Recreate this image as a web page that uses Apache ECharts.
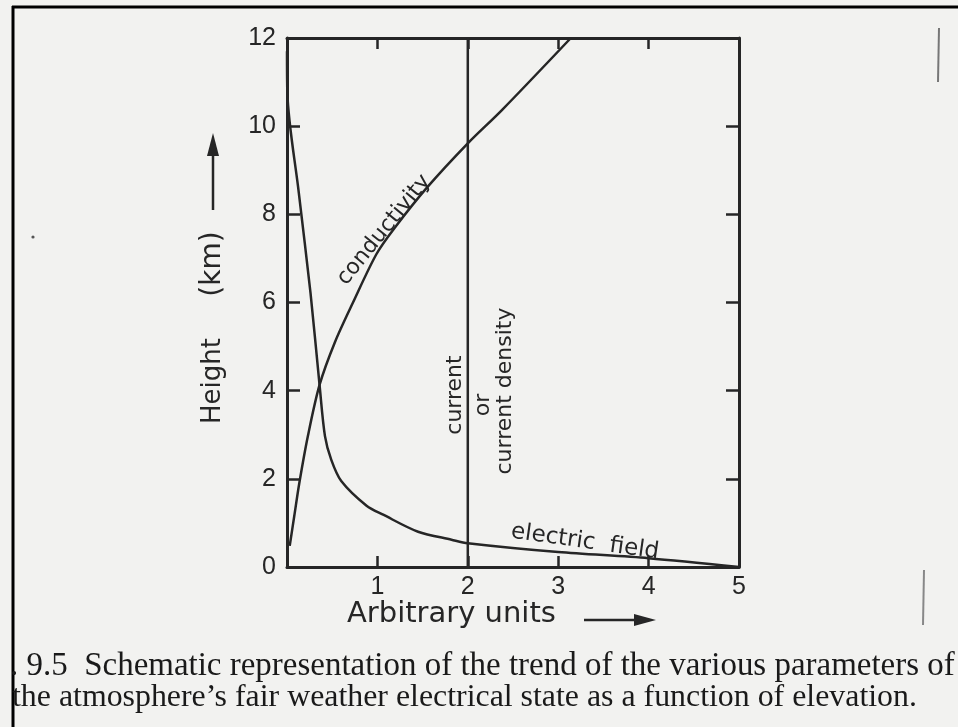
<!DOCTYPE html>
<html><head><meta charset="utf-8">
<script src="https://cdn.jsdelivr.net/npm/echarts@6/dist/echarts.min.js"></script>
<style>html,body{margin:0;padding:0;background:#f2f2f0}#c{width:958px;height:727px}</style>
</head><body><div id="c"></div>
<script>
// ---- data ----
const xTickValues = [1, 2, 3, 4, 5];
const yTickValues = [0, 2, 4, 6, 8, 10, 12];
const conductivityX = [0.03, 0.08, 0.135, 0.23, 0.36, 0.53, 0.73, 0.99, 1.19, 1.55, 2.0, 2.38, 3.14];
const conductivityY = [0.48, 1.15, 1.89, 2.96, 4.13, 5.1, 6.0, 7.1, 7.69, 8.61, 9.61, 10.37, 12.0];
const fieldX = [0.0, 0.004, 0.13, 0.26, 0.36, 0.42, 0.49, 0.6, 0.88, 1.07, 1.45, 1.82, 2.0, 3.0, 4.0, 5.0];
const fieldY = [11.7, 10.75, 8.5, 6.22, 4.13, 2.97, 2.43, 1.95, 1.39, 1.18, 0.8, 0.62, 0.54, 0.34, 0.2, 0.0];
const currentX = [2, 2];
const currentY = [0, 12];
const captionLines = [
  '. 9.5  Schematic representation of the trend of the various parameters of',
  'the atmosphere\u2019s fair weather electrical state as a function of elevation.'
];

const zip = (xs, ys) => xs.map((x, i) => [x, ys[i]]);
const INK = '#262626';
const SANS = '"Liberation Sans", Arial, sans-serif';
const LET = '"DejaVu Sans", sans-serif';
const SERIF = '"Liberation Serif", serif';

function fitSize(text, family, targetWidth) {
  const c = document.createElement('canvas').getContext('2d');
  c.font = '20px ' + family;
  return 20 * targetWidth / c.measureText(text).width;
}
const cap1Size = fitSize(captionLines[0], SERIF, 945);
const cap2Size = fitSize(captionLines[1], SERIF, 905);

const chart = echarts.init(document.getElementById('c'));
const axisLine = { show: true, onZero: false, lineStyle: { color: INK, width: 3 } };
const tickStyle = (len) => ({ show: true, inside: true, length: len, lineStyle: { color: INK, width: 2.5 } });

const txt = (x, y, rot, text, size, extra) => ({
  type: 'text', x, y, rotation: rot,
  style: Object.assign({ text, font: size + 'px ' + LET, fill: INK, align: 'center', verticalAlign: 'middle' }, extra || {})
});

chart.setOption({
  backgroundColor: '#f2f2f0',
  animation: false,
  grid: { left: 287, top: 38, width: 452, height: 529 },
  xAxis: [
    { type: 'value', position: 'bottom', min: 0, max: 5, interval: 1,
      axisLine, axisTick: tickStyle(11), splitLine: { show: false },
      axisLabel: { show: true, margin: 8, fontSize: 25, color: INK, fontFamily: SANS,
        formatter: v => xTickValues.includes(v) ? String(v) : '' } },
    { type: 'value', position: 'top', min: 0, max: 5, interval: 1,
      axisLine, axisTick: tickStyle(11), splitLine: { show: false }, axisLabel: { show: false } }
  ],
  yAxis: [
    { type: 'value', position: 'left', min: 0, max: 12, interval: 2,
      axisLine, axisTick: tickStyle(13), splitLine: { show: false },
      axisLabel: { show: true, margin: 11, fontSize: 25, color: INK, fontFamily: SANS,
        formatter: v => yTickValues.includes(v) ? String(v) : '' } },
    { type: 'value', position: 'right', min: 0, max: 12, interval: 2,
      axisLine, axisTick: tickStyle(13), splitLine: { show: false }, axisLabel: { show: false } }
  ],
  series: [
    { name: 'conductivity', type: 'line', data: zip(conductivityX, conductivityY), smooth: 0.3,
      symbol: 'none', lineStyle: { color: INK, width: 2.5 } },
    { name: 'electric field', type: 'line', data: zip(fieldX, fieldY), smooth: 0.3,
      symbol: 'none', lineStyle: { color: INK, width: 2.5 } },
    { name: 'current', type: 'line', data: zip(currentX, currentY),
      symbol: 'none', lineStyle: { color: INK, width: 2.5 } }
  ],
  graphic: [
    // scan frame
    { type: 'line', shape: { x1: 13, y1: 6, x2: 13, y2: 727 }, style: { stroke: '#000', lineWidth: 3 } },
    { type: 'line', shape: { x1: 12, y1: 7, x2: 958, y2: 7 }, style: { stroke: '#000', lineWidth: 3 } },
    // scan marks
    { type: 'line', shape: { x1: 939, y1: 28, x2: 938, y2: 82 }, style: { stroke: '#777', lineWidth: 2 } },
    { type: 'line', shape: { x1: 924, y1: 570, x2: 923, y2: 625 }, style: { stroke: '#888', lineWidth: 2 } },
    { type: 'circle', shape: { cx: 33, cy: 237, r: 1.6 }, style: { fill: '#555' } },
    // y axis title
    txt(213, 381, Math.PI / 2, 'Height', 26),
    txt(213, 264, Math.PI / 2, '(km)', 28),
    { type: 'line', shape: { x1: 213, y1: 210, x2: 213, y2: 150 }, style: { stroke: INK, lineWidth: 2.5 } },
    { type: 'polygon', shape: { points: [[213, 133], [207, 156], [219, 156]] }, style: { fill: INK } },
    // x axis title
    txt(347, 614, 0, 'Arbitrary units', 29, { align: 'left' }),
    { type: 'line', shape: { x1: 584, y1: 620, x2: 640, y2: 620 }, style: { stroke: INK, lineWidth: 2.5 } },
    { type: 'polygon', shape: { points: [[656, 620], [634, 614], [634, 626]] }, style: { fill: INK } },
    // curve annotations
    txt(384, 230, 0.89, 'conductivity', 22),
    txt(455, 395, Math.PI / 2, 'current', 22),
    txt(483, 405, Math.PI / 2, 'or', 22),
    txt(505, 391, Math.PI / 2, 'current density', 22),
    txt(585, 542, -0.14, 'electric  field', 23),
    // caption
    { type: 'text', x: 10, y: 666,
      style: { text: captionLines[0], font: cap1Size.toFixed(2) + 'px ' + SERIF, fill: '#1a1a1a', align: 'left', verticalAlign: 'middle' } },
    { type: 'text', x: 12, y: 698,
      style: { text: captionLines[1], font: cap2Size.toFixed(2) + 'px ' + SERIF, fill: '#1a1a1a', align: 'left', verticalAlign: 'middle' } }
  ]
});
</script>
</body></html>
